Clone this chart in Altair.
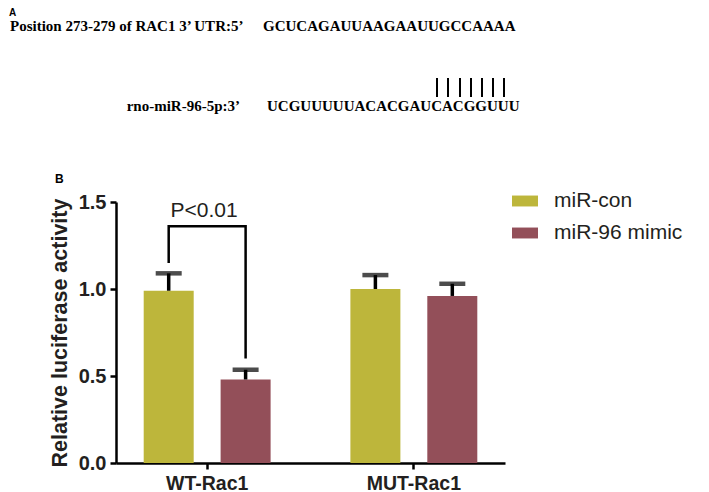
import altair as alt
import pandas as pd

# ---- data ----
groups = ["WT-Rac1", "WT-Rac1", "MUT-Rac1", "MUT-Rac1"]
series = ["miR-con", "miR-96 mimic", "miR-con", "miR-96 mimic"]
means = [0.99, 0.48, 1.00, 0.96]
uppers = [1.09, 0.536, 1.08, 1.03]

group_order = ["WT-Rac1", "MUT-Rac1"]
series_order = ["miR-con", "miR-96 mimic"]
colors = ["#BDB63B", "#934F59"]
y_ticks = [0.0, 0.5, 1.0, 1.5]

# significance bracket (WT-Rac1)
br_series = ["miR-con", "miR-con", "miR-96 mimic", "miR-96 mimic"]
br_y = [1.15, 1.36, 1.36, 0.60]
p_label = "P<0.01"
p_y = 1.414

# panel A texts
a_label1 = "Position 273-279 of RAC1 3’ UTR:5’"
a_seq1 = "GCUCAGAUUAAGAAUUGCCAAAA"
a_label2 = "rno-miR-96-5p:3’"
a_seq2 = "UCGUUUUUACACGAUCACGGUUU"
pair_x = [321, 332, 344, 355, 366, 377, 388]

df = pd.DataFrame({"group": groups, "series": series, "mean": means, "upper": uppers})
df_br = pd.DataFrame({"group": ["WT-Rac1"] * 4, "series": br_series, "y": br_y,
                      "order": [0, 1, 2, 3]})
df_p = pd.DataFrame({"group": ["WT-Rac1"], "y": [p_y], "label": [p_label]})

W, H = 389, 261
INK = "#231F20"

x_enc = alt.X("group:N", sort=group_order,
              scale=alt.Scale(paddingInner=0.386, paddingOuter=0.134),
              axis=alt.Axis(title=None, labelAngle=0, labelFont="Liberation Sans",
                            labelFontWeight="bold", labelFontSize=19.5, labelColor=INK,
                            labelPadding=5, tickSize=6, tickWidth=2.5, tickColor="black",
                            domainColor="black", domainWidth=2.5, grid=False))
xo_enc = alt.XOffset("series:N", sort=series_order,
                     scale=alt.Scale(paddingInner=0.35, paddingOuter=0))
y_scale = alt.Scale(domain=[0, 1.5], nice=False, zero=True)

legend_path = "M-1,-0.42H1V0.42H-1Z"

bars = alt.Chart(df).mark_bar().encode(
    x=x_enc, xOffset=xo_enc,
    y=alt.Y("mean:Q", scale=y_scale,
            axis=alt.Axis(values=y_ticks, format=".1f", title="Relative luciferase activity",
                          titleFont="Liberation Sans", titleFontWeight="bold", titleFontSize=21.5,
                          titleColor=INK, titlePadding=7,
                          labelFont="Liberation Sans", labelFontWeight="bold", labelFontSize=20,
                          labelColor=INK, labelPadding=4, tickSize=6, tickWidth=2.5,
                          tickColor="black", domainColor="black", domainWidth=2.5, grid=False)),
    color=alt.Color("series:N", sort=series_order,
                    scale=alt.Scale(domain=series_order, range=colors),
                    legend=alt.Legend(title=None, orient="none", legendX=396, legendY=-14,
                                      symbolType=legend_path, symbolSize=676,
                                      symbolStrokeWidth=0, labelFont="Liberation Sans",
                                      labelFontSize=21, labelColor=INK, labelOffset=16,
                                      rowPadding=9)),
)

stems = alt.Chart(df).mark_rule(color="black", strokeWidth=3.5).encode(
    x=x_enc, xOffset=xo_enc, y=alt.Y("mean:Q", scale=y_scale), y2="upper:Q")

caps = alt.Chart(df).mark_tick(color="black", thickness=4.5, size=26).encode(
    x=x_enc, xOffset=xo_enc, y=alt.Y("upper:Q", scale=y_scale))

bracket = alt.Chart(df_br).mark_line(color="black", strokeWidth=2.5).encode(
    x=x_enc, xOffset=xo_enc, y=alt.Y("y:Q", scale=y_scale), order="order:Q")

ptext = alt.Chart(df_p).mark_text(font="Liberation Sans", fontSize=21, color=INK,
                                  baseline="alphabetic", align="center", dx=-3).encode(
    x=x_enc, y=alt.Y("y:Q", scale=y_scale), text="label:N")

serif = dict(font="Liberation Serif", fontWeight="bold", fontSize=15, color="black",
             baseline="alphabetic")
anno_df = pd.DataFrame({"k": [0]})


def txt(s, x, y, align="left", **kw):
    style = dict(serif)
    style.update(kw)
    return alt.Chart(anno_df).mark_text(text=s, align=align, **style).encode(
        x=alt.value(x), y=alt.value(y))


layers = [bars, stems, caps, bracket, ptext,
          txt(a_label1, -106, -171),
          txt(a_seq1, 147, -171),
          txt(a_label2, 124, -91, align="right"),
          txt(a_seq2, 151, -91),
          txt("A", -107, -186, font="Liberation Sans", fontSize=10),
          txt("B", -61, -19, font="Liberation Sans", fontSize=12)]
for px in pair_x:
    layers.append(alt.Chart(anno_df).mark_rule(color="black", strokeWidth=2).encode(
        x=alt.value(px), y=alt.value(-124), y2=alt.value(-105)))

chart = alt.layer(*layers).properties(
    width=W, height=H,
    autosize=alt.AutoSizeParams(type="none"),
    padding={"left": 108, "top": 194, "right": 196, "bottom": 32},
).configure_view(stroke=None)

chart.save("out.html", embed_options={"renderer": "svg", "actions": False})
